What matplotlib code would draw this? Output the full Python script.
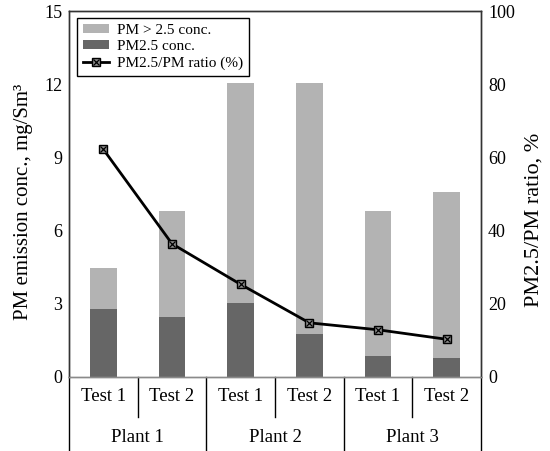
import numpy as np
import matplotlib
matplotlib.use("Agg")
import matplotlib.pyplot as plt
from matplotlib.legend_handler import HandlerTuple

plt.rcParams['font.family'] = ['Liberation Serif', 'DejaVu Serif']

# values
tests = ["Test 1", "Test 2", "Test 1", "Test 2", "Test 1", "Test 2"]
plants = ["Plant 1", "Plant 2", "Plant 3"]
pm_total = [4.45, 6.8, 12.05, 12.05, 6.82, 7.6]   # mg/Sm3
pm25 = [2.78, 2.47, 3.05, 1.78, 0.88, 0.78]       # mg/Sm3
ratio = [62.2, 36.4, 25.3, 14.8, 12.9, 10.3]      # %

pm_coarse = [t - f for t, f in zip(pm_total, pm25)]
x = np.arange(len(tests))

fig = plt.figure(figsize=(5.5, 4.51), dpi=100)
ax = fig.add_axes([0.1255, 0.1641, 0.749, 0.8115])
ax2 = ax.twinx()

b_fine = ax.bar(x, pm25, width=0.39, color='#666666')
b_coarse = ax.bar(x, pm_coarse, width=0.39, bottom=pm25, color='#b3b3b3')

ln, = ax2.plot(x, ratio, color='black', lw=2, marker='s', ms=6,
               mfc='#8c8c8c', mec='black', mew=1)
xm, = ax2.plot(x, ratio, ls='none', marker='x', ms=5, color='black', mew=0.9)

ax.set_xlim(-0.5, 5.5)
ax.set_ylim(0, 15)
ax.set_yticks([0, 3, 6, 9, 12, 15])
ax2.set_ylim(0, 100)
ax2.set_yticks([0, 20, 40, 60, 80, 100])
ax.set_xticks([])

for a in (ax, ax2):
    a.tick_params(axis='y', length=0, labelsize=13, pad=5)
    for s in a.spines.values():
        s.set_color('#333333')
        s.set_linewidth(1.0)
    a.spines['bottom'].set_color('#8a8a8a')

ax.set_ylabel('PM emission conc., mg/Sm³', fontsize=15)
ax.yaxis.set_label_coords(-0.088, 0.478)
ax2.set_ylabel('PM2.5/PM ratio, %', fontsize=16)
ax2.yaxis.set_label_coords(1.105, 0.43)

# two-row category axis
trans = ax.get_xaxis_transform()
for xi, t in zip(x, tests):
    ax.text(xi, -0.0546, t, transform=trans, ha='center', va='center', fontsize=13.5)
for i, p in enumerate(plants):
    ax.text(2 * i + 0.5, -0.164, p, transform=trans, ha='center', va='center', fontsize=13.5)
for xs in [0.5, 2.5, 4.5]:
    ax.plot([xs, xs], [0, -0.109], transform=trans, color='black', lw=1, clip_on=False)
for xs in [-0.5, 1.5, 3.5, 5.5]:
    ax.plot([xs, xs], [0, -0.21], transform=trans, color='black', lw=1, clip_on=False)

leg = ax2.legend([b_coarse, b_fine, (ln, xm)],
                 ['PM > 2.5 conc.', 'PM2.5 conc.', 'PM2.5/PM ratio (%)'],
                 handler_map={tuple: HandlerTuple(ndivide=1, pad=0)},
                 loc='upper left', bbox_to_anchor=(0.019, 0.981), borderaxespad=0,
                 fontsize=11, fancybox=False, framealpha=1, edgecolor='black',
                 handlelength=1.7, handleheight=0.5, labelspacing=0.2,
                 handletextpad=0.5, borderpad=0.4)
leg.get_frame().set_linewidth(1.0)

fig.savefig('out.png', dpi=100)
